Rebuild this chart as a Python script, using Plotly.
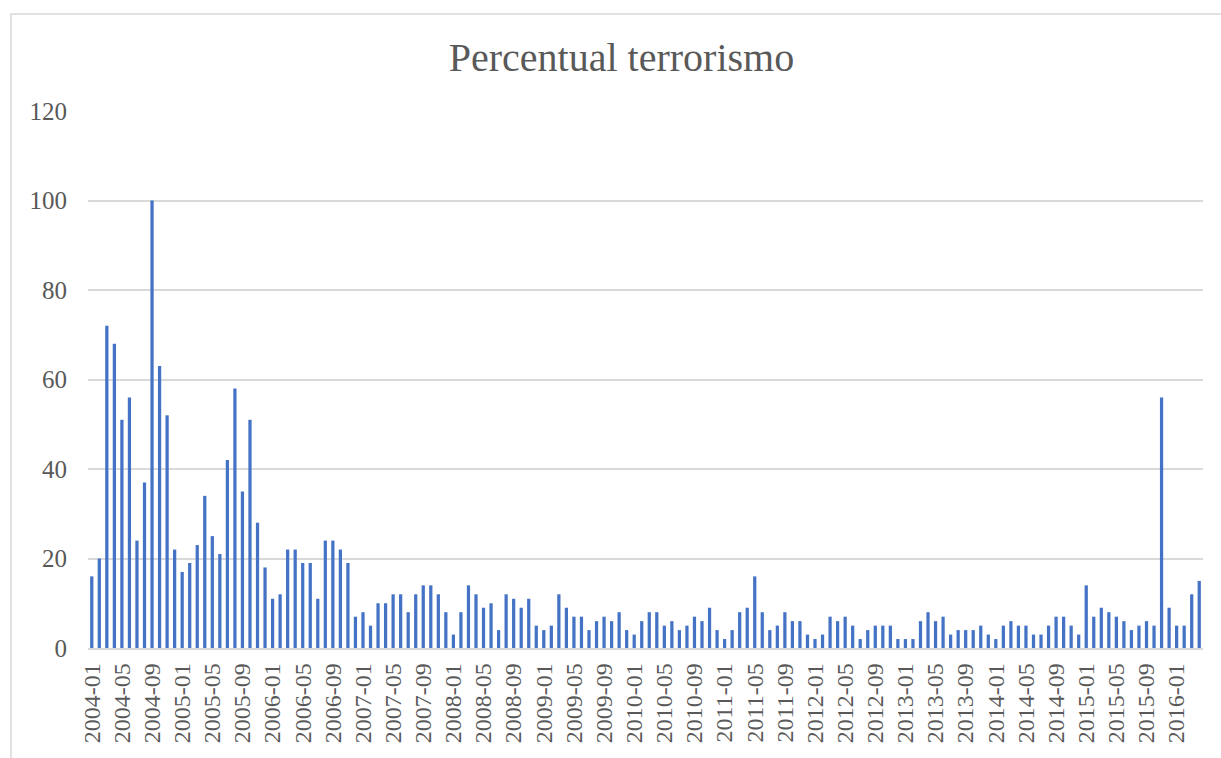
import plotly.graph_objects as go

# Monthly series, January 2004 to April 2016
years = list(range(2004, 2017))
months = [f"{y}-{m:02d}" for y in years for m in range(1, 13)][:148]

values = [
    16, 20, 72, 68, 51, 56, 24, 37, 100, 63, 52, 22,   # 2004
    17, 19, 23, 34, 25, 21, 42, 58, 35, 51, 28, 18,    # 2005
    11, 12, 22, 22, 19, 19, 11, 24, 24, 22, 19, 7,     # 2006
    8, 5, 10, 10, 12, 12, 8, 12, 14, 14, 12, 8,        # 2007
    3, 8, 14, 12, 9, 10, 4, 12, 11, 9, 11, 5,          # 2008
    4, 5, 12, 9, 7, 7, 4, 6, 7, 6, 8, 4,               # 2009
    3, 6, 8, 8, 5, 6, 4, 5, 7, 6, 9, 4,                # 2010
    2, 4, 8, 9, 16, 8, 4, 5, 8, 6, 6, 3,               # 2011
    2, 3, 7, 6, 7, 5, 2, 4, 5, 5, 5, 2,                # 2012
    2, 2, 6, 8, 6, 7, 3, 4, 4, 4, 5, 3,                # 2013
    2, 5, 6, 5, 5, 3, 3, 5, 7, 7, 5, 3,                # 2014
    14, 7, 9, 8, 7, 6, 4, 5, 6, 5, 56, 9,              # 2015
    5, 5, 12, 15,                                      # 2016
]

tick_labels = months[::4]
y_ticks = [0, 20, 40, 60, 80, 100, 120]

FONT = "Liberation Serif"
TEXT = "#595959"
GRID = "#d9d9d9"

fig = go.Figure(
    go.Bar(
        x=months,
        y=values,
        marker=dict(color="#4472C4", line=dict(width=0)),
        hoverinfo="x+y",
    )
)

fig.update_layout(
    width=1221,
    height=758,
    margin=dict(l=88, r=18, t=111, b=110),
    paper_bgcolor="white",
    plot_bgcolor="white",
    bargap=0.57,
    showlegend=False,
    font=dict(family=FONT, color=TEXT, size=24),
    title=dict(
        text="Percentual terrorismo",
        x=0.509,
        xanchor="center",
        y=1 - 57 / 758,
        yanchor="middle",
        xref="container",
        yref="container",
        font=dict(family=FONT, size=40, color=TEXT),
    ),
    xaxis=dict(
        type="category",
        categoryorder="array",
        categoryarray=months,
        tickmode="array",
        tickvals=tick_labels,
        ticktext=tick_labels,
        tickangle=-90,
        tickfont=dict(family=FONT, size=24, color=TEXT),
        showgrid=False,
        showline=True,
        linecolor=GRID,
        linewidth=1.5,
        ticks="",
        ticklabelstandoff=4,
    ),
    yaxis=dict(
        range=[0, 120],
        tickmode="array",
        tickvals=y_ticks,
        tickfont=dict(family=FONT, size=25, color=TEXT),
        showgrid=True,
        gridcolor=GRID,
        gridwidth=1.5,
        zeroline=False,
        showline=False,
        ticks="",
        ticklabelstandoff=20,
    ),
    shapes=[
        dict(
            type="rect",
            xref="paper",
            yref="paper",
            x0=(11 - 88) / 1115,
            x1=1.2,
            y0=-0.4,
            y1=(648 - 14) / 537,
            line=dict(color=GRID, width=1.5),
            fillcolor="rgba(0,0,0,0)",
            layer="below",
        )
    ],
)

fig.write_html("out.html")
